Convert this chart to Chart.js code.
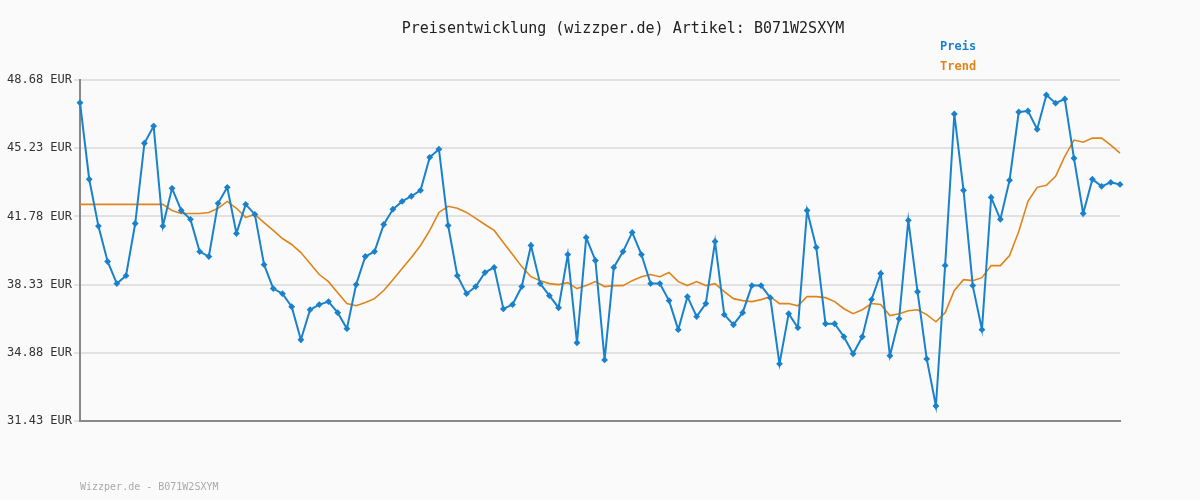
<!DOCTYPE html>
<html>
<head>
<meta charset="utf-8">
<script src="https://cdn.jsdelivr.net/npm/chart.js@4"></script>
<style>
  body { margin: 0; background: #fafafa; font-family: "DejaVu Sans Mono", monospace; }
  #wrap { position: relative; width: 1200px; height: 500px; }
  .txt { position: absolute; white-space: nowrap; }
  #title { left: 0; width: 1246px; text-align: center; top: 19px; font-size: 15px; color: #222; }
  #lg1 { left: 940px; top: 39px; font-size: 12px; font-weight: bold; color: #1a82cc; }
  #lg2 { left: 940px; top: 59px; font-size: 12px; font-weight: bold; color: #e0841a; }
  #foot { left: 80px; top: 481px; font-size: 10px; color: #aaa; }
</style>
</head>
<body>
<div id="wrap">
  <canvas id="c" width="1200" height="500"></canvas>
  <div class="txt" id="title">Preisentwicklung (wizzper.de) Artikel: B071W2SXYM</div>
  <div class="txt" id="lg1">Preis</div>
  <div class="txt" id="lg2">Trend</div>
  <div class="txt" id="foot">Wizzper.de - B071W2SXYM</div>
</div>
<script>
const yTicks = [31.43, 34.88, 38.33, 41.78, 45.23, 48.68];

const preis = [
  47.53, 43.66, 41.29, 39.50, 38.38, 38.78, 41.42, 45.48, 46.35, 41.29,
  43.20, 42.08, 41.63, 40.00, 39.75, 42.44, 43.25, 40.92, 42.39, 41.88,
  39.34, 38.13, 37.87, 37.21, 35.54, 37.06, 37.32, 37.47, 36.91, 36.10,
  38.33, 39.75, 40.00, 41.37, 42.14, 42.54, 42.80, 43.10, 44.77, 45.18,
  41.32, 38.78, 37.87, 38.23, 38.94, 39.20, 37.10, 37.32, 38.23, 40.31,
  38.38, 37.77, 37.16, 39.85, 35.39, 40.71, 39.55, 34.52, 39.20, 40.00,
  40.97, 39.85, 38.38, 38.38, 37.52, 36.05, 37.72, 36.71, 37.37, 40.51,
  36.81, 36.30, 36.91, 38.28, 38.28, 37.67, 34.32, 36.86, 36.15, 42.08,
  40.21, 36.35, 36.35, 35.69, 34.83, 35.69, 37.57, 38.89, 34.73, 36.60,
  41.58, 37.97, 34.57, 32.19, 39.30, 46.96, 43.10, 38.28, 36.05, 42.74,
  41.63, 43.61, 47.06, 47.11, 46.19, 47.92, 47.51, 47.72, 44.72, 41.93,
  43.66, 43.30, 43.50, 43.40
];

const trend = [
  42.39, 42.39, 42.39, 42.39, 42.39, 42.39, 42.39, 42.39, 42.39, 42.39,
  42.08, 41.93, 41.93, 41.93, 41.98, 42.19, 42.54, 42.19, 41.73, 41.88,
  41.47, 41.07, 40.66, 40.36, 39.95, 39.40, 38.84, 38.48, 37.92, 37.37,
  37.26, 37.42, 37.62, 38.03, 38.58, 39.14, 39.70, 40.31, 41.07, 41.98,
  42.29, 42.19, 41.98, 41.68, 41.37, 41.07, 40.46, 39.85, 39.24, 38.73,
  38.53, 38.38, 38.33, 38.43, 38.13, 38.28, 38.48, 38.23, 38.28, 38.28,
  38.53, 38.73, 38.84, 38.73, 38.94, 38.48, 38.28, 38.48, 38.28, 38.38,
  37.97, 37.62, 37.52, 37.47, 37.57, 37.72, 37.37, 37.37, 37.26, 37.72,
  37.72, 37.67, 37.47, 37.11, 36.86, 37.06, 37.37, 37.32, 36.76, 36.86,
  37.01, 37.06, 36.81, 36.45, 36.91, 38.03, 38.58, 38.53, 38.68, 39.29,
  39.29, 39.80, 41.02, 42.54, 43.25, 43.35, 43.81, 44.82, 45.64, 45.53,
  45.74, 45.74, 45.38, 44.98
];

const labels = preis.map((_, i) => i + 1);

new Chart(document.getElementById("c"), {
  type: "line",
  data: {
    labels,
    datasets: [
      {
        label: "Preis",
        data: preis,
        borderColor: "#1a82cc",
        backgroundColor: "#1a82cc",
        borderWidth: 2,
        pointStyle: "rectRot",
        pointRadius: 2,
        tension: 0,
      },
      {
        label: "Trend",
        data: trend,
        borderColor: "#e0841a",
        borderWidth: 1.6,
        pointRadius: 0,
        tension: 0,
      },
    ],
  },
  options: {
    responsive: false,
    animation: false,
    layout: { padding: { left: 0, right: 80, top: 80, bottom: 71 } },
    plugins: { legend: { display: false }, tooltip: { enabled: false } },
    scales: {
      x: {
        offset: false,
        ticks: { display: false },
        grid: { display: false },
        border: { color: "#888", width: 2 },
      },
      y: {
        min: 31.43,
        max: 48.68,
        afterBuildTicks: (axis) => { axis.ticks = yTicks.map((v) => ({ value: v })); },
        afterFit: (axis) => { axis.width = 80; },
        ticks: {
          color: "#333",
          padding: 2,
          font: { family: "DejaVu Sans Mono", size: 12 },
          callback: (v) => `${Number(v).toFixed(2)} EUR`,
        },
        grid: { color: "#e2e2e2", lineWidth: 2, drawTicks: true, tickLength: 6 },
        border: { color: "#888", width: 2 },
      },
    },
  },
});
</script>
</body>
</html>
